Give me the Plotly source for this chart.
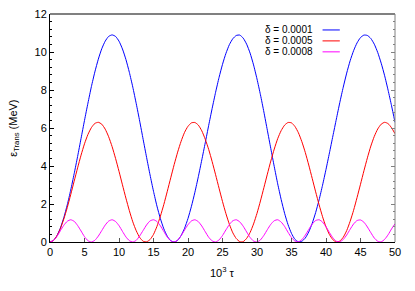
import plotly.graph_objects as go

# sample positions (10^3 tau)
tau = [k / 2 for k in range(101)]

delta_labels = ["δ = 0.0001", "δ = 0.0005", "δ = 0.0008"]
colors = ["#0000ff", "#ff0000", "#ff00ff"]

e_0001 = [
    0.00, 0.08, 0.33, 0.73, 1.28, 1.95, 2.73, 3.59, 4.50, 5.45,
    6.40, 7.31, 8.18, 8.95, 9.62, 10.17, 10.57, 10.82, 10.90, 10.82,
    10.57, 10.16, 9.61, 8.93, 8.15, 7.28, 6.36, 5.40, 4.45, 3.53,
    2.67, 1.89, 1.23, 0.69, 0.30, 0.07, 0.00, 0.09, 0.34, 0.72,
    1.24, 1.88, 2.62, 3.44, 4.32, 5.22, 6.14, 7.03, 7.88, 8.66,
    9.35, 9.93, 10.39, 10.70, 10.87, 10.89, 10.73, 10.41, 9.94, 9.32,
    8.58, 7.75, 6.84, 5.88, 4.92, 3.97, 3.06, 2.24, 1.51, 0.91,
    0.45, 0.14, 0.01, 0.04, 0.21, 0.53, 0.98, 1.55, 2.22, 2.99,
    3.82, 4.69, 5.58, 6.47, 7.34, 8.15, 8.89, 9.54, 10.07, 10.48,
    10.76, 10.89, 10.87, 10.71, 10.41, 9.97, 9.41, 8.75, 7.99, 7.17,
    6.30,
]

e_0005 = [
    0.00, 0.08, 0.32, 0.70, 1.21, 1.81, 2.49, 3.20, 3.90, 4.57,
    5.17, 5.66, 6.02, 6.24, 6.30, 6.20, 5.94, 5.54, 5.02, 4.40,
    3.72, 3.01, 2.31, 1.65, 1.06, 0.59, 0.24, 0.04, 0.01, 0.13,
    0.40, 0.82, 1.36, 1.98, 2.67, 3.38, 4.08, 4.73, 5.30, 5.77,
    6.09, 6.27, 6.29, 6.15, 5.85, 5.41, 4.87, 4.23, 3.54, 2.83,
    2.13, 1.49, 0.93, 0.48, 0.18, 0.02, 0.02, 0.19, 0.50, 0.95,
    1.51, 2.16, 2.86, 3.57, 4.26, 4.89, 5.44, 5.86, 6.15, 6.29,
    6.27, 6.08, 5.75, 5.28, 4.71, 4.05, 3.35, 2.64, 1.96, 1.33,
    0.80, 0.39, 0.12, 0.00, 0.05, 0.25, 0.60, 1.09, 1.67, 2.34,
    3.04, 3.75, 4.43, 5.05, 5.56, 5.95, 6.20, 6.30, 6.23, 6.01,
    5.70,
]

e_0008 = [
    0.00, 0.08, 0.29, 0.59, 0.88, 1.09, 1.17, 1.09, 0.87, 0.58,
    0.28, 0.07, 0.00, 0.09, 0.31, 0.60, 0.89, 1.10, 1.17, 1.08,
    0.86, 0.56, 0.27, 0.07, 0.00, 0.09, 0.32, 0.61, 0.90, 1.11,
    1.17, 1.08, 0.85, 0.55, 0.26, 0.06, 0.00, 0.10, 0.33, 0.63,
    0.91, 1.11, 1.17, 1.07, 0.84, 0.54, 0.25, 0.06, 0.00, 0.11,
    0.34, 0.64, 0.92, 1.12, 1.17, 1.06, 0.83, 0.53, 0.24, 0.05,
    0.00, 0.11, 0.35, 0.65, 0.93, 1.12, 1.17, 1.05, 0.82, 0.51,
    0.23, 0.05, 0.01, 0.12, 0.36, 0.66, 0.94, 1.13, 1.17, 1.05,
    0.80, 0.50, 0.22, 0.04, 0.01, 0.13, 0.37, 0.67, 0.95, 1.13,
    1.16, 1.04, 0.79, 0.49, 0.21, 0.04, 0.01, 0.14, 0.38, 0.69,
    0.96,
]

series = [e_0001, e_0005, e_0008]

FONT = "Liberation Sans, Arial, sans-serif"

fig = go.Figure()
for vals, name, col in zip(series, delta_labels, colors):
    fig.add_trace(go.Scatter(
        x=tau, y=vals, mode="lines", name=name,
        line=dict(color=col, width=1, shape="spline", smoothing=0.6),
        showlegend=False,
    ))

# empty trace so the grey right-hand tick axis is drawn
fig.add_trace(go.Scatter(x=[], y=[], yaxis="y2", showlegend=False,
                         hoverinfo="skip"))

# gnuplot-style key: text on the left, line sample on the right
key_y = [0.930, 0.882, 0.834]
for name, col, ky in zip(delta_labels, colors, key_y):
    fig.add_annotation(xref="paper", yref="paper", x=0.768, y=ky,
                       text=name, showarrow=False, xanchor="right",
                       yanchor="middle", font=dict(family=FONT, size=10, color="#000"))
    fig.add_shape(type="line", xref="paper", yref="paper",
                  x0=0.790, x1=0.840, y0=ky, y1=ky,
                  line=dict(color=col, width=1))

# axis titles
fig.add_annotation(xref="paper", yref="paper", x=0.5, y=-0.132,
                   text="10<sup>3</sup> τ", showarrow=False,
                   xanchor="center", yanchor="middle",
                   font=dict(family=FONT, size=11, color="#000"))
fig.add_annotation(xref="paper", yref="paper", x=-0.105, y=0.5,
                   text="ε<sub>Trans</sub> (MeV)", showarrow=False, textangle=-90,
                   xanchor="center", yanchor="middle",
                   font=dict(family=FONT, size=11, color="#000"))

# grey top and right border
fig.add_shape(type="line", xref="paper", yref="paper", x0=0, x1=1, y0=1, y1=1,
              line=dict(color="#808080", width=2), layer="above")
fig.add_shape(type="line", xref="paper", yref="paper", x0=1, x1=1, y0=0, y1=1,
              line=dict(color="#808080", width=1), layer="above")

# the page body adds an 8px offset, so the figure is sized to fill the rest
fig.update_layout(
    width=407, height=283,
    margin=dict(l=42, r=20, t=6, b=49),
    paper_bgcolor="white", plot_bgcolor="white",
    font=dict(family=FONT, size=11, color="#000"),
    xaxis=dict(
        range=[0, 50], dtick=5, tick0=0, automargin=False,
        ticklabeloverflow="allow",
        showline=True, linecolor="#000", linewidth=1,
        ticks="inside", ticklen=4, tickcolor="#555", tickwidth=1,
        showgrid=False, zeroline=False,
        tickfont=dict(family=FONT, size=11, color="#000"),
    ),
    yaxis=dict(
        range=[0, 12], dtick=2, tick0=0, automargin=False,
        ticklabeloverflow="allow",
        showline=True, linecolor="#000", linewidth=1,
        ticks="inside", ticklen=4, tickcolor="#000", tickwidth=1,
        minor=dict(dtick=0.4, ticks="inside", ticklen=2, tickcolor="#000"),
        showgrid=False, zeroline=False,
        tickfont=dict(family=FONT, size=11, color="#000"),
    ),
    yaxis2=dict(
        range=[0, 12], dtick=2, tick0=0, overlaying="y", side="right",
        automargin=False, showline=False,
        ticks="inside", ticklen=4, tickcolor="#808080",
        minor=dict(dtick=0.4, ticks="inside", ticklen=2, tickcolor="#808080"),
        showticklabels=False, showgrid=False, zeroline=False,
    ),
)

fig.write_html("out.html")
